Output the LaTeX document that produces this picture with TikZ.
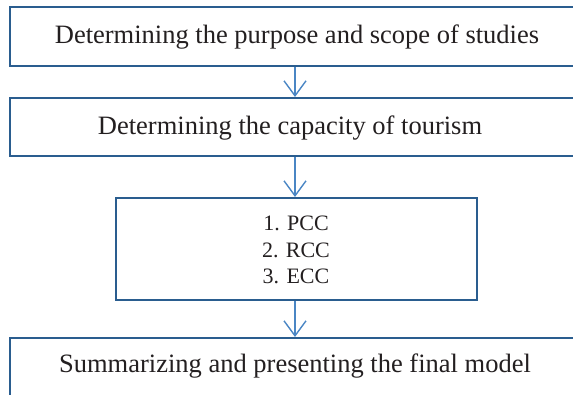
\documentclass[tikz,border=0pt]{standalone}
\usepackage{fontspec}
\setmainfont{Liberation Serif}
\usetikzlibrary{arrows.meta}
\definecolor{boxblue}{HTML}{2A5D8F}
\definecolor{arrblue}{HTML}{4A86C4}
\definecolor{txtgray}{HTML}{231F20}
\begin{document}
\begin{tikzpicture}[x=1pt,y=-1pt,
  box/.style={draw=boxblue,line width=2pt,anchor=north west,inner sep=0pt},
  txt/.style={text=txtgray,font=\fontsize{26.5}{28}\selectfont,inner sep=0pt,align=center},
  arr/.style={draw=arrblue,line width=1.4pt,-{Straight Barb[length=15pt,width=22pt,line width=1.4pt]}}]
\useasboundingbox (0,0) rectangle (573,394);
\clip (0,0) rectangle (573,394);
\node[box,minimum width=620,minimum height=59] (b1) at (9,6) {};
\node[box,minimum width=620,minimum height=58] (b2) at (9,97) {};
\node[box,minimum width=361,minimum height=102] (b3) at (115,197) {};
\node[box,minimum width=620,minimum height=90] (b4) at (9,337) {};
\node[txt] (t1) at (297,37) {Determining the purpose and scope of studies};
\node[txt] (t2) at (290,128) {Determining the capacity of tourism};
\node[txt,font=\fontsize{22}{26.7}\selectfont] (t3) at (296,250) {1. PCC\\2. RCC\\3. ECC};
\node[txt] (t4) at (295,366) {Summarizing and presenting the final model};
\coordinate (ax) at (295,0);
\draw[arr] (b1.south -| ax) -- (b2.north -| ax);
\draw[arr] (b2.south -| ax) -- (b3.north -| ax);
\draw[arr] (b3.south -| ax) -- (b4.north -| ax);
\end{tikzpicture}
\end{document}
